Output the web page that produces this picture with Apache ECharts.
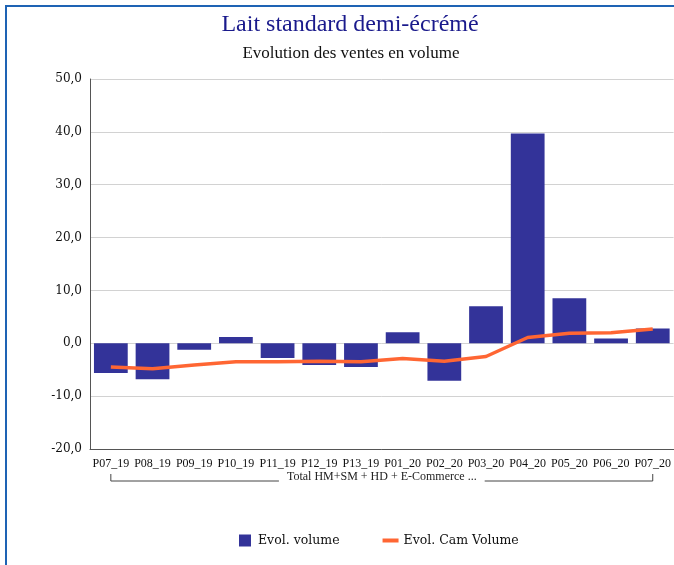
<!DOCTYPE html>
<html>
<head>
<meta charset="utf-8">
<script src="https://cdn.jsdelivr.net/npm/echarts@6/dist/echarts.min.js"></script>
<style>
  html, body { margin: 0; padding: 0; background: #fff; overflow: hidden; }
  #frame {
    position: absolute; left: 5px; top: 5px; width: 700px; height: 600px;
    border-left: 2px solid #1e63b4; border-top: 2px solid #1e63b4;
  }
  #chart { position: absolute; left: 0; top: 0; width: 674px; height: 565px; }
</style>
</head>
<body>
<div id="frame"></div>
<div id="chart"></div>
<script>
// periodes
const categories = ['P07_19', 'P08_19', 'P09_19', 'P10_19', 'P11_19', 'P12_19', 'P13_19',
  'P01_20', 'P02_20', 'P03_20', 'P04_20', 'P05_20', 'P06_20', 'P07_20']
// evolution volume (%)
const evolVolume = [-5.6, -6.8, -1.2, 1.2, -2.8, -4.1, -4.5, 2.1, -7.1, 7.0, 39.7, 8.5, 0.9, 2.8]
// evolution cumul annuel mobile
const evolCam = [-4.5, -4.8, -4.1, -3.5, -3.5, -3.4, -3.5, -2.9, -3.4, -2.5, 1.1, 1.9, 2.0, 2.7]
const groupLabel = 'Total HM+SM + HD + E-Commerce ...'

const serif = '"Liberation Serif", "DejaVu Serif", serif'
const serif2 = '"DejaVu Serif", "Liberation Serif", serif'

const chart = echarts.init(document.getElementById('chart'), null, { renderer: 'canvas' })

chart.setOption({
  animation: false,
  backgroundColor: 'transparent',
  title: [
    {
      text: 'Lait standard demi-écrémé',
      left: 345, top: 8, textAlign: 'center',
      textStyle: { fontFamily: serif, fontSize: 24, fontWeight: 'normal', color: '#1a1a8c' }
    },
    {
      text: 'Evolution des ventes en volume',
      left: 346, top: 40, textAlign: 'center',
      textStyle: { fontFamily: serif, fontSize: 17, fontWeight: 'normal', color: '#111' }
    }
  ],
  grid: { left: 90, right: -2, top: 79, bottom: 116, containLabel: false },
  legend: {
    bottom: 13,
    left: 234,
    itemWidth: 16,
    itemHeight: 12,
    itemGap: 43,
    textStyle: { fontFamily: serif2, fontSize: 12.5, color: '#111' },
    data: [
      { name: 'Evol. volume', icon: 'path://M0,0h12v12h-12z' },
      { name: 'Evol. Cam Volume', icon: 'path://M0,0h16v4h-16z' }
    ]
  },
  xAxis: {
    type: 'category',
    data: categories,
    axisLine: { onZero: false, lineStyle: { color: '#555', width: 1 } },
    axisTick: { show: false },
    axisLabel: { interval: 0, margin: 9, fontFamily: serif, fontSize: 12, color: '#111' }
  },
  yAxis: {
    type: 'value',
    min: -20, max: 50, interval: 10,
    axisLine: { show: true, lineStyle: { color: '#555', width: 1 } },
    axisTick: { show: false },
    splitLine: { lineStyle: { color: '#d2d2d2' } },
    axisLabel: {
      margin: 8, fontFamily: serif2, fontSize: 12, color: '#111',
      formatter: v => v.toFixed(1).replace('.', ',')
    }
  },
  series: [
    {
      name: 'Evol. volume',
      type: 'bar',
      data: evolVolume,
      barWidth: '81%',
      itemStyle: { color: '#333399' }
    },
    {
      name: 'Evol. Cam Volume',
      type: 'line',
      data: evolCam,
      symbol: 'none',
      lineStyle: { color: '#ff6633', width: 3.5 },
      itemStyle: { color: '#ff6633' }
    }
  ]
})

// accolade sous les periodes
const x0 = chart.convertToPixel({ xAxisIndex: 0 }, categories[0])
const x1 = chart.convertToPixel({ xAxisIndex: 0 }, categories[categories.length - 1])
const by = 481
chart.setOption({
  graphic: [
    {
      type: 'polyline', silent: true,
      shape: { points: [[x0, by - 7], [x0, by], [x1, by], [x1, by - 7]] },
      style: { stroke: '#444', lineWidth: 1, fill: null }
    },
    {
      type: 'text', silent: true,
      x: (x0 + x1) / 2, y: 477,
      style: {
        text: groupLabel, font: '12px ' + serif, fill: '#222',
        align: 'center', verticalAlign: 'middle',
        backgroundColor: '#fff', padding: [0, 8]
      }
    }
  ]
})
</script>
</body>
</html>
